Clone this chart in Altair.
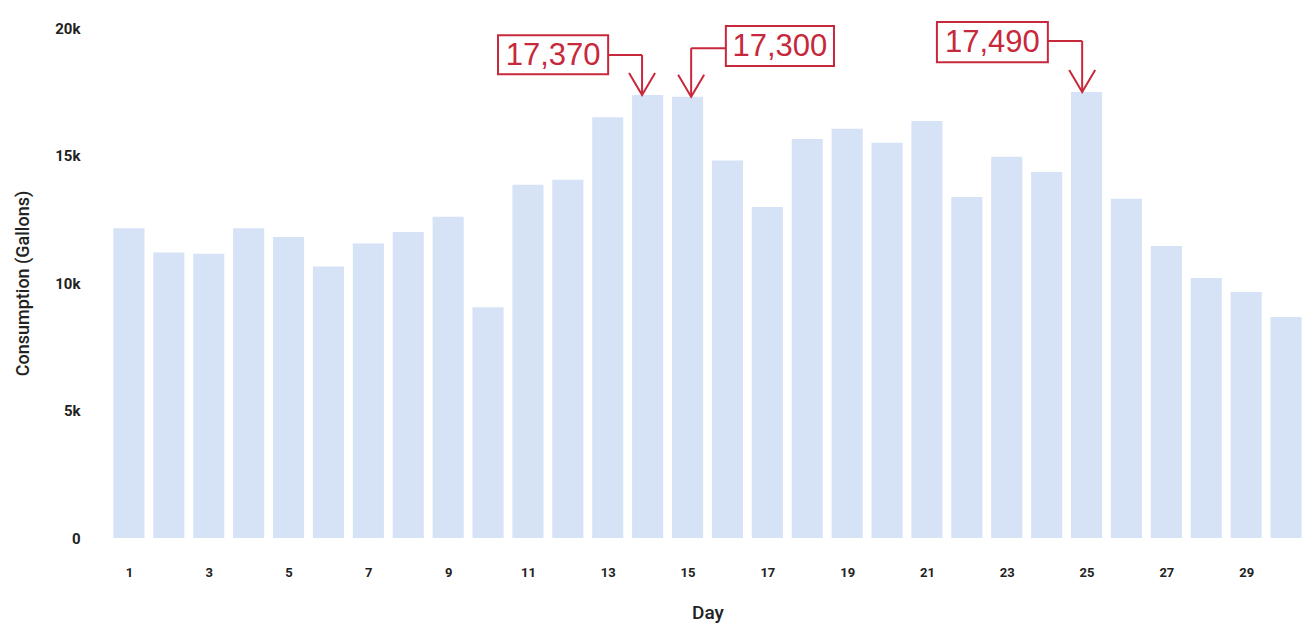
import altair as alt
import pandas as pd

# ---- data ----
days = list(range(1, 31))
consumption = [12150, 11200, 11150, 12150, 11800, 10650, 11550, 12000, 12600, 9050,
               13850, 14050, 16500, 17370, 17300, 14800, 12980, 15650, 16050, 15500,
               16350, 13370, 14950, 14350, 17490, 13300, 11450, 10200, 9650, 8670]
tick_days = list(range(1, 30, 2))
y_ticks = [0, 5000, 10000, 15000, 20000]

ann_days = [14, 15, 25]
ann_labels = ["17,370", "17,300", "17,490"]

# annotation layout (in data units, relative placement of callout boxes)
ann_box_x1 = [10.25, 15.96, 21.25]
ann_box_x2 = [13.01, 18.67, 24.03]
ann_box_ytop = [19720, 20080, 20240]
ann_box_ybot = [18190, 18510, 18660]
ann_elbow_y = [18940, 19210, 19490]
ann_arrow_dx = [-0.14, 0.09, -0.11]
ann_conn_side = ["right", "left", "right"]

RED = "#c8283c"
BAR = "#d6e3f7"

df = pd.DataFrame({"day": days, "value": consumption})

vals = [consumption[d - 1] for d in ann_days]
ann = pd.DataFrame({
    "day": ann_days,
    "value": vals,
    "label": ann_labels,
    "bx1": ann_box_x1,
    "bx2": ann_box_x2,
    "by1": ann_box_ytop,
    "by2": ann_box_ybot,
    "ey": ann_elbow_y,
    "ax": [d + o for d, o in zip(ann_days, ann_arrow_dx)],
    "cx": [x2 if s == "right" else x1 for x1, x2, s in zip(ann_box_x1, ann_box_x2, ann_conn_side)],
    "tx": [(a + b) / 2 for a, b in zip(ann_box_x1, ann_box_x2)],
    "ty": [(a + b) / 2 for a, b in zip(ann_box_ytop, ann_box_ybot)],
})

xscale = alt.Scale(domain=[0.5, 30.5], nice=False, zero=False)
yscale = alt.Scale(domain=[0, 20000], nice=False)

x_axis = alt.Axis(
    values=tick_days, title="Day", grid=False, ticks=False, domain=False,
    labelFont="Roboto", labelFontWeight="bold", labelFontSize=13, labelColor="#222222",
    labelPadding=28, titleFont="Roboto", titleFontSize=19, titleFontWeight=500,
    titleColor="#222222", titlePadding=24, format="d",
)
y_axis = alt.Axis(
    values=y_ticks, title="Consumption (Gallons)", grid=False, ticks=False, domain=False,
    labelExpr="datum.value == 0 ? '0' : (datum.value / 1000) + 'k'",
    labelFont="Roboto", labelFontWeight="bold", labelFontSize=15, labelColor="#222222",
    labelPadding=29, titleFont="Roboto", titleFontSize=18, titleFontWeight=500,
    titleColor="#222222", titlePadding=22,
)

bars = alt.Chart(df).transform_calculate(
    x1="datum.day - 0.39", x2="datum.day + 0.39"
).mark_bar(color=BAR).encode(
    x=alt.X("x1:Q", scale=xscale, axis=x_axis),
    x2="x2:Q",
    y=alt.Y("value:Q", scale=yscale, axis=y_axis),
    y2=alt.datum(0),
)

base = alt.Chart(ann)

vline = base.mark_rule(color=RED, strokeWidth=2).encode(
    x="ax:Q", y="value:Q", y2="ey:Q"
)
hline = base.mark_rule(color=RED, strokeWidth=2).encode(
    x="ax:Q", x2="cx:Q", y="ey:Q"
)
head = base.mark_point(
    shape="M -1 -1.7 L 0 0 L 1 -1.7", filled=False, stroke=RED, strokeWidth=2,
    size=676, opacity=1
).encode(x="ax:Q", y="value:Q")
box = base.mark_rect(fill="white", stroke=RED, strokeWidth=2).encode(
    x="bx1:Q", x2="bx2:Q", y="by1:Q", y2="by2:Q"
)
txt = base.mark_text(
    font="Liberation Sans", fontSize=31, color=RED, align="center", baseline="middle", dy=1
).encode(x="tx:Q", y="ty:Q", text="label:N")

chart = alt.layer(bars, vline, hline, head, box, txt).properties(
    width=1197, height=510,
    autosize=alt.AutoSizeParams(type="none"),
    padding={"left": 109, "top": 28, "right": 0, "bottom": 98},
).configure(
    background="white",
    view=alt.ViewConfig(stroke="transparent", strokeWidth=0),
)

chart.save("out.html", embed_options={"renderer": "svg", "actions": False})
